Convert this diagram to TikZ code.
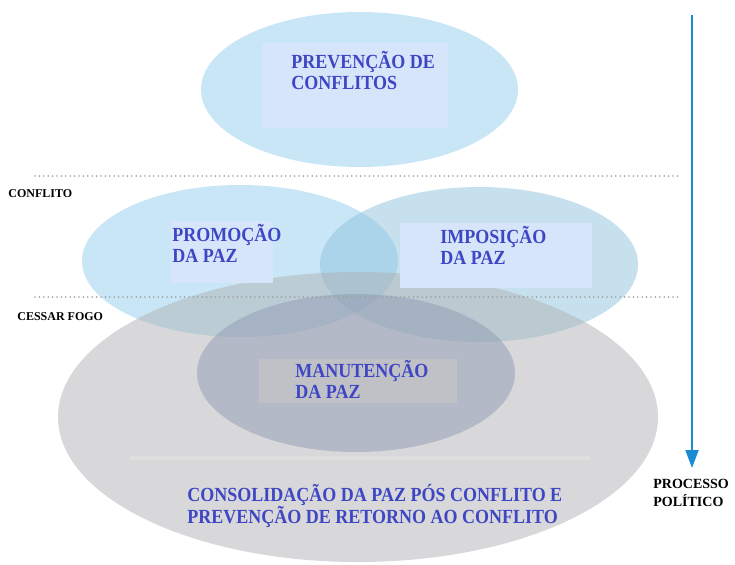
\documentclass[tikz,border=0pt]{standalone}
\usepackage{fontspec}
\setmainfont{Liberation Serif}
\newfontfamily\zonefont{Liberation Serif}[FakeStretch=0.9]
\usetikzlibrary{arrows.meta}

\definecolor{zoneblue}{RGB}{145,205,237}
\definecolor{zonegrey}{RGB}{177,178,181}
\definecolor{keepgrey}{RGB}{145,155,180}
\definecolor{boxblue}{RGB}{214,229,250}
\definecolor{boxgrey}{RGB}{192,193,198}
\definecolor{textblue}{RGB}{62,70,196}
\definecolor{arrowblue}{RGB}{28,140,210}

\tikzset{
  zone/.style={fill=zoneblue, fill opacity=0.5},
  zonetext/.style={anchor=base west, inner sep=0pt, align=left, text=textblue,
    font=\zonefont\bfseries\fontsize{10}{10.5}\selectfont},
  tag/.style={anchor=base west, inner sep=0pt, align=left,
    font=\bfseries\fontsize{6}{7}\selectfont},
  stage/.style={draw=gray!75, line width=0.9pt, dash pattern=on 0pt off 2.2pt, line cap=round},
}

\begin{document}
\begin{tikzpicture}[x=0.5pt,y=-0.5pt]
    \useasboundingbox (0,0) rectangle (735,564);

    % Zones
    \fill[zone] (359.5,89.5) ellipse [x radius=158.5, y radius=77.5];
    \fill[zone] (240,261) ellipse [x radius=158, y radius=76];
    \fill[zone, fill=zoneblue!85!gray] (479,264.5) ellipse [x radius=159, y radius=77.5];
    \fill[zonegrey, fill opacity=0.5] (358,417) ellipse [x radius=300, y radius=145];
    \fill[keepgrey, fill opacity=0.5] (356,373) ellipse [x radius=159, y radius=79];
    \fill[white, fill opacity=0.15] (130,456) rectangle (590,460);

    % Text boxes
    \fill[boxblue] (262,43) rectangle (448,128);
    \fill[boxblue] (171,221) rectangle (273,283);
    \fill[boxblue] (400,223) rectangle (592,288);
    \fill[boxgrey] (259,359) rectangle (457,403);

    % Stages
    \foreach \y in {176,297} {
        \draw[stage] (35,\y) -- (680,\y);
    }
    \node[tag] (conflito) at (8,197) {CONFLITO};
    \node[tag] (cessar) at (17,320) {CESSAR FOGO};

    % Labels (anchored on the last line)
    \node[zonetext] (prevencao) at (291,89) {PREVENÇÃO DE\\CONFLITOS};
    \node[zonetext] (promocao) at (172,262) {PROMOÇÃO\\DA PAZ};
    \node[zonetext] (imposicao) at (440,264) {IMPOSIÇÃO\\DA PAZ};
    \node[zonetext] (manutencao) at (295,398) {MANUTENÇÃO\\DA PAZ};
    \node[zonetext] (consolidacao) at (187,523)
        {CONSOLIDAÇÃO DA PAZ PÓS CONFLITO E\\[-1pt]PREVENÇÃO DE RETORNO AO CONFLITO};

    % Process arrow
    \coordinate (arrowtop) at (692,15);
    \coordinate (arrowtip) at (692,468);
    \draw[arrowblue, line width=1pt, -{Triangle[length=9pt,width=6.5pt]}] (arrowtop) -- (arrowtip);
    \node[tag, font=\bfseries\fontsize{7}{9}\selectfont] (processo) at (653,506) {PROCESSO\\POLÍTICO};
\end{tikzpicture}
\end{document}
